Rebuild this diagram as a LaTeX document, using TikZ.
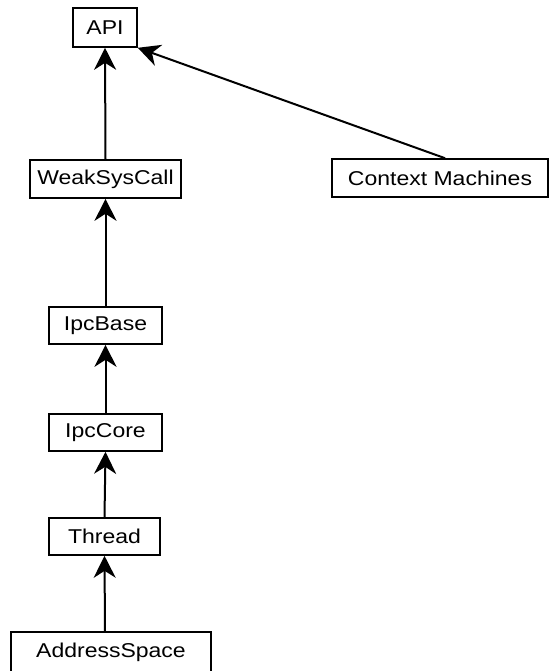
\documentclass[tikz,border=0pt]{standalone}
\usepackage{fontspec}
\setmainfont[FakeStretch=1.15]{Liberation Sans}
\usetikzlibrary{arrows.meta}
\begin{document}
\begin{tikzpicture}[x=1pt,y=-1pt,
  box/.style={draw, line width=1.6pt, inner sep=0pt, font=\fontsize{20}{24}\selectfont},
  arr/.style={-{Stealth[length=22pt,width=22pt,inset=7pt]}, line width=2pt}]
\useasboundingbox (0,0) rectangle (550,671);
\clip (0,0) rectangle (550,671);
\node[box, minimum width=64pt, minimum height=39pt] (api) at (105,27.5) {API};
\node[box, minimum width=151pt, minimum height=38pt] (weak) at (105.5,179) {WeakSysCall};
\node[box, minimum width=216pt, minimum height=38pt] (ctx) at (440,178) {Context Machines};
\node[box, minimum width=113pt, minimum height=37pt] (ipcbase) at (105.5,325.5) {IpcBase};
\node[box, minimum width=113pt, minimum height=37pt] (ipccore) at (105.5,432.5) {IpcCore};
\node[box, minimum width=111pt, minimum height=37pt] (thread) at (104.5,536.5) {Thread};
\node[box, minimum width=200pt, minimum height=40pt] (as) at (111,652) {AddressSpace};
\draw[arr] (weak.north) -- (api.south);
\draw[arr] ([xshift=5pt]ctx.north) -- (api.south east);
\draw[arr] (ipcbase.north) -- (weak.south);
\draw[arr] (ipccore.north) -- (ipcbase.south);
\draw[arr] (thread.north) -- (ipccore.south);
\draw[arr] ([xshift=-6pt]as.north) -- (thread.south);
\end{tikzpicture}
\end{document}
